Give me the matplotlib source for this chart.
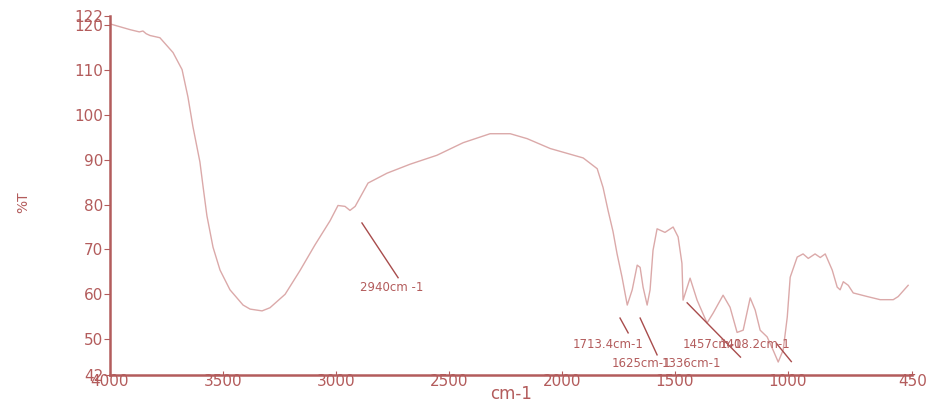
"""
Recreate an FTIR transmittance spectrum (%T vs wavenumber) with peak labels.
"""
import matplotlib
matplotlib.use("Agg")
import matplotlib.pyplot as plt

# spectrum (cm-1, %T)
wavenumber = [4000, 3987, 3911, 3870, 3854, 3840, 3823, 3779, 3721, 3681, 3655,
              3633, 3602, 3588, 3571, 3544, 3513, 3469, 3411, 3380, 3327, 3292,
              3225, 3159, 3093, 3026, 2991, 2960, 2938, 2915, 2858, 2774, 2672,
              2553, 2437, 2318, 2229, 2154, 2052, 1906, 1844, 1818, 1796, 1774,
              1756, 1734, 1711, 1689, 1667, 1654, 1641, 1623, 1610, 1597, 1579,
              1544, 1508, 1486, 1469, 1464, 1433, 1402, 1358, 1331, 1287, 1256,
              1225, 1198, 1167, 1145, 1123, 1092, 1066, 1043, 1021, 1003, 990,
              959, 933, 910, 880, 857, 835, 804, 782, 769, 755, 733, 711, 649,
              592, 534, 512, 468]
transmittance = [120.3, 120.1, 119.0, 118.5, 118.7, 118.1, 117.7, 117.2, 113.9,
                 110.1, 104.0, 97.4, 89.5, 84.0, 77.5, 70.5, 65.4, 61.0, 57.6,
                 56.7, 56.3, 57.0, 60.0, 65.3, 71.0, 76.4, 79.8, 79.6, 78.7, 79.6,
                 84.8, 87.0, 89.0, 91.0, 93.8, 95.8, 95.8, 94.7, 92.5, 90.4, 88.0,
                 83.8, 78.7, 74.0, 69.0, 63.8, 57.6, 61.0, 66.5, 66.0, 61.6, 57.6,
                 61.0, 69.8, 74.6, 73.8, 75.0, 72.8, 66.9, 58.7, 63.6, 58.7, 53.6,
                 55.8, 59.8, 57.1, 51.5, 52.0, 59.2, 56.5, 52.0, 50.5, 47.6, 44.9,
                 47.6, 54.9, 63.8, 68.3, 69.0, 68.0, 69.0, 68.2, 69.0, 65.4, 61.6,
                 61.0, 62.8, 62.0, 60.3, 59.5, 58.8, 58.8, 59.5, 62.0]

# peak labels: text, text position, leader line (x0, y0, x1, y1)
peak_labels = ["2940cm -1", "1713.4cm-1", "1625cm-1", "1457cm-1", "1408.2cm-1", "1336cm-1"]
label_xy = [(2893, 61.6), (1951, 48.7), (1778, 44.6), (1464, 48.7), (1300, 48.7), (1560, 44.6)]
leader_lines = [(2885, 75.9, 2725, 63.7), (1743, 54.7, 1707, 51.4),
                (1654, 54.7, 1579, 46.5), (1446, 58.1, 1210, 46.0),
                None, (1050, 49.0, 985, 45.0)]

x_ticks = [4000, 3500, 3000, 2500, 2000, 1500, 1000, 450]
y_ticks = [42, 50, 60, 70, 80, 90, 100, 110, 120, 122]

axis_color = "#b35c5c"
line_color = "#dba9a9"

fig = plt.figure(figsize=(9.28, 4.05), dpi=100)
ax = fig.add_axes([0.1185, 0.074, 0.8645, 0.886])

ax.plot(wavenumber, transmittance, color=line_color, linewidth=1.0)

for text, (tx, ty), seg in zip(peak_labels, label_xy, leader_lines):
    if seg is not None:
        ax.plot([seg[0], seg[2]], [seg[1], seg[3]], color="#a84c4c", linewidth=1.0)
    ax.text(tx, ty, text, color=axis_color, fontsize=8.5, ha="left", va="center")

ax.set_xlim(4000, 450)
ax.set_ylim(42, 122)
ax.set_xticks(x_ticks)
ax.set_yticks(y_ticks)

for side in ("top", "right"):
    ax.spines[side].set_visible(False)
for side in ("left", "bottom"):
    ax.spines[side].set_color(axis_color)
    ax.spines[side].set_linewidth(1.8)

ax.tick_params(axis="x", direction="in", length=3, colors=axis_color,
               labelsize=11, pad=-1)
ax.tick_params(axis="y", direction="out", length=4, colors=axis_color,
               labelsize=11, pad=1)

fig.text(0.551, 0.005, "cm-1", color=axis_color, fontsize=12, ha="center", va="bottom")
fig.text(0.025, 0.50, "%T", color=axis_color, fontsize=10, rotation=90,
         ha="center", va="center")

fig.savefig("out.png", dpi=100)
